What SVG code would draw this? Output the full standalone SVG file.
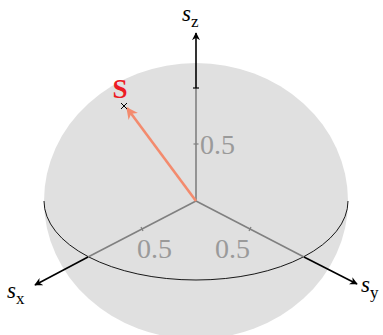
<svg xmlns="http://www.w3.org/2000/svg" width="383" height="335" viewBox="0 0 383 335">
<style>
.lbl{font-family:"Liberation Serif","DejaVu Serif",serif;}
.num{font-family:"Liberation Serif","DejaVu Serif",serif;font-size:28px;fill:#9a9a9a;}
.ax{stroke:#808080;stroke-width:1.6;fill:none;}
.axb{stroke:#000;stroke-width:1.6;fill:none;}
.tk{stroke:#808080;stroke-width:1.2;}
.tkb{stroke:#000;stroke-width:1.2;}
</style>
<defs>
<marker id="ah" viewBox="0 0 10 10" refX="9" refY="5" markerWidth="5" markerHeight="5" orient="auto" markerUnits="strokeWidth">
<path d="M0,0 L10,5 L0,10 L3,5 z" fill="#000"/>
</marker>
<marker id="ahs" viewBox="0 0 10 10" refX="9" refY="5" markerWidth="4.5" markerHeight="4.5" orient="auto" markerUnits="strokeWidth">
<path d="M0,0 L10,5 L0,10 L3,5 z" fill="#f38b6e"/>
</marker>
</defs>
<g id="sphere">
<ellipse cx="196" cy="201" rx="152" ry="138" fill="#e0e0e0"/>
<path d="M44,201 A152,79 0 0 0 348,201" fill="none" stroke="#000" stroke-width="0.9"/>
</g>
<g id="connectors">
<line class="ax" x1="196" y1="201" x2="88" y2="257"/>
<line class="ax" x1="196" y1="201" x2="304" y2="257"/>
<line class="ax" x1="196" y1="201" x2="196" y2="88"/>
<line class="axb" x1="88" y1="257" x2="35" y2="285" marker-end="url(#ah)"/>
<line class="axb" x1="304" y1="257" x2="357" y2="284" marker-end="url(#ah)"/>
<line class="axb" x1="196" y1="88" x2="196" y2="33" marker-end="url(#ah)"/>
<line class="tk" x1="141" y1="227" x2="143" y2="231"/>
<line class="tk" x1="251" y1="227" x2="249" y2="231"/>
<line class="tk" x1="193.5" y1="144" x2="198.5" y2="144"/>
<line class="tkb" x1="193" y1="88" x2="199" y2="88"/>
<line x1="196" y1="201" x2="127" y2="108" stroke="#f38b6e" stroke-width="2.6" marker-end="url(#ahs)"/>
</g>
<g id="marker-S">
<line x1="121" y1="103" x2="127" y2="109" stroke="#000" stroke-width="1"/>
<line x1="127" y1="103" x2="121" y2="109" stroke="#000" stroke-width="1"/>
<text class="lbl" x="120" y="98" text-anchor="middle" font-size="27" font-weight="bold" fill="#ec1c24">S</text>
</g>
<g id="labels">
<text class="num" x="200" y="154">0.5</text>
<text class="num" x="137" y="258">0.5</text>
<text class="num" x="215" y="258">0.5</text>
<text class="lbl" x="182" y="21" font-size="23" font-style="italic">s<tspan font-style="normal" font-size="17" dy="6">z</tspan></text>
<text class="lbl" x="7" y="298" font-size="23" font-style="italic">s<tspan font-style="normal" font-size="17" dy="6">x</tspan></text>
<text class="lbl" x="361" y="292" font-size="23" font-style="italic">s<tspan font-style="normal" font-size="17" dy="6">y</tspan></text>
</g>
</svg>
